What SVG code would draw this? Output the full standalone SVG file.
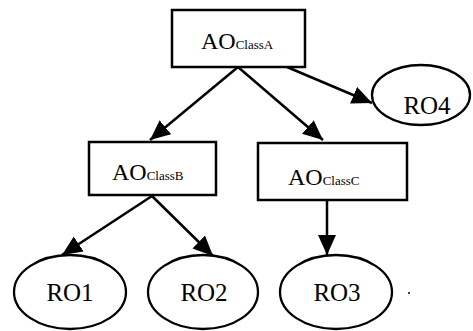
<svg xmlns="http://www.w3.org/2000/svg" width="473" height="331" viewBox="0 0 473 331">
<defs>
<style>
.box{fill:#fff;stroke:#000;stroke-width:2.5}
.ell{fill:#fff;stroke:#000;stroke-width:2.3}
.edge{stroke:#000;stroke-width:2.5;fill:none;marker-end:url(#ah)}
.t{font-family:"Liberation Serif","Times New Roman",serif;fill:#000}
.big{font-size:24px}
.sub{font-size:13px}
.ro{font-size:25px;text-anchor:middle}
</style>
<marker id="ah" markerUnits="userSpaceOnUse" markerWidth="22" markerHeight="20" refX="20" refY="9" orient="auto">
<path d="M0,0 L20,9 L0,18 z" fill="#000"/>
</marker>
</defs>
<rect width="473" height="331" fill="#fff"/>
<g id="connectors">
<line class="edge" x1="238" y1="67" x2="150" y2="140"/>
<line class="edge" x1="238" y1="67" x2="323" y2="140"/>
<line class="edge" x1="287" y1="67" x2="372" y2="103"/>
<line class="edge" x1="152" y1="196" x2="62" y2="255"/>
<line class="edge" x1="152" y1="196" x2="213" y2="256"/>
<line class="edge" x1="327" y1="200" x2="327" y2="255"/>
</g>
<g id="AOClassA">
<rect class="box" x="172" y="10" width="133" height="57"/>
<text class="t big" x="201" y="49">AO<tspan class="sub">ClassA</tspan></text>
</g>
<g id="AOClassB">
<rect class="box" x="89" y="142" width="127" height="53"/>
<text class="t big" x="112" y="180">AO<tspan class="sub">ClassB</tspan></text>
</g>
<g id="AOClassC">
<rect class="box" x="258" y="143" width="149" height="57"/>
<text class="t big" x="288" y="185">AO<tspan class="sub">ClassC</tspan></text>
</g>
<g id="RO4">
<ellipse class="ell" cx="421" cy="95" rx="49" ry="30"/>
<text class="t ro" x="427" y="114">RO4</text>
</g>
<g id="RO1">
<ellipse class="ell" cx="70" cy="292" rx="56" ry="37"/>
<text class="t ro" x="70" y="301">RO1</text>
</g>
<g id="RO2">
<ellipse class="ell" cx="203" cy="292" rx="55" ry="37"/>
<text class="t ro" x="204" y="301">RO2</text>
</g>
<g id="RO3">
<ellipse class="ell" cx="336" cy="292" rx="56" ry="37"/>
<text class="t ro" x="337" y="301">RO3</text>
</g>
<circle cx="409" cy="293" r="1" fill="#000"/>
</svg>
